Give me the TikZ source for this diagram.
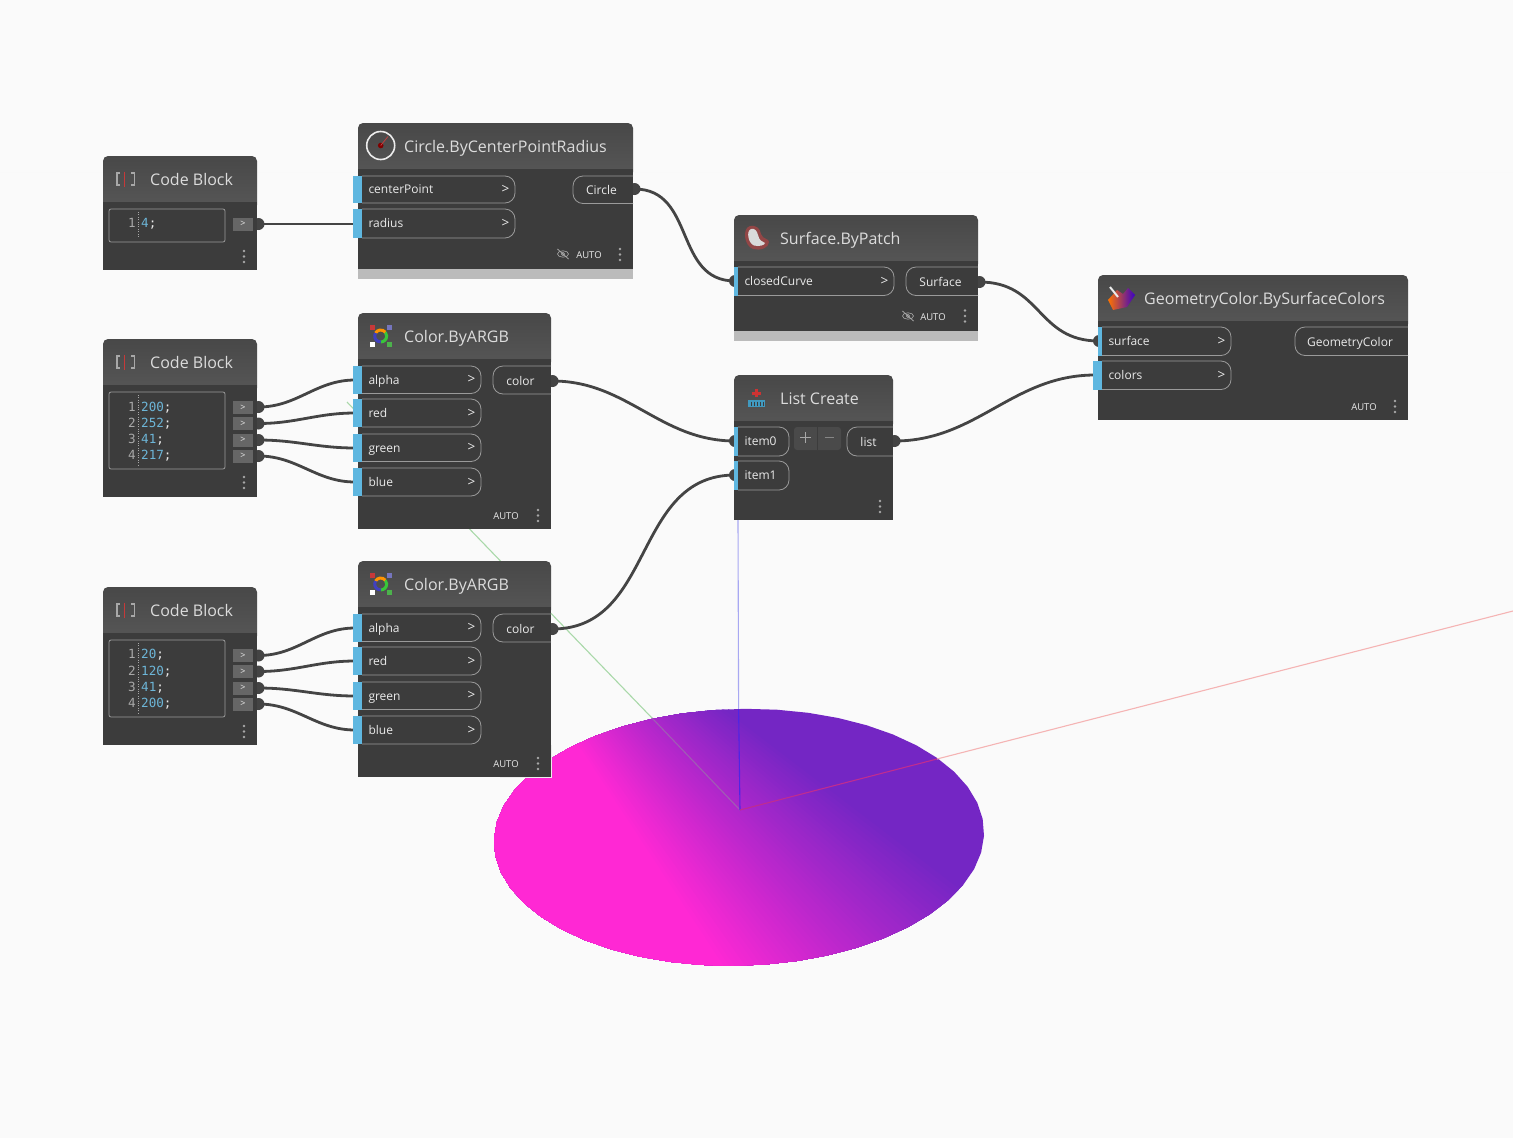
\documentclass[tikz,border=0pt]{standalone}
\usepackage{fontspec}
\setmainfont{Open Sans}
\newfontfamily\codefont{DejaVu Sans Mono}
\usetikzlibrary{shadings}
\definecolor{bgc}{HTML}{FAFAFA}
\definecolor{bodyc}{HTML}{3C3C3C}
\definecolor{headt}{HTML}{484848}
\definecolor{headb}{HTML}{575757}
\definecolor{wirec}{HTML}{444444}
\definecolor{portc}{HTML}{5FB7E0}
\definecolor{linec}{HTML}{9A9A9A}
\definecolor{txtc}{HTML}{EAEAEA}
\definecolor{titlec}{HTML}{DCDCDC}
\definecolor{codec}{HTML}{6DB6D8}
\definecolor{numc}{HTML}{A8A8A8}
\definecolor{magc}{HTML}{FF28D4}
\definecolor{purc}{HTML}{7426C4}
\definecolor{chipc}{HTML}{666666}
\definecolor{btnc}{HTML}{4A4A4A}
\definecolor{bandc}{HTML}{BBBBBB}
\definecolor{gaxout}{HTML}{A9D8A9}
\definecolor{gaxin}{HTML}{A05CB4}
\definecolor{baxout}{HTML}{A8A8F2}
\definecolor{baxin}{HTML}{4F24E4}
\definecolor{raxout}{HTML}{F5B4B4}
\definecolor{raxin}{HTML}{C02C90}
\tikzset{
  txt/.style={inner sep=0pt,text=txtc,font=\fontsize{12}{14}\selectfont,anchor=base west},
  ctxt/.style={inner sep=0pt,text=txtc,font=\fontsize{12}{14}\selectfont,anchor=base},
  chev/.style={inner sep=0pt,text=txtc,font=\fontsize{13.5}{15}\selectfont,anchor=center},
  title/.style={inner sep=0pt,text=titlec,font=\fontsize{16}{19}\selectfont,anchor=base west},
  autotxt/.style={inner sep=0pt,text=txtc,font=\fontsize{9.5}{11}\selectfont,anchor=base},
  codetxt/.style={inner sep=0pt,text=codec,font=\codefont\fontsize{12.6}{14}\selectfont,anchor=base west},
  numtxt/.style={inner sep=0pt,text=numc,font=\codefont\fontsize{12.6}{14}\selectfont,anchor=base east},
  knob/.style={circle,fill=wirec,minimum size=12pt,inner sep=0pt},
  wire/.style={draw=wirec,line width=2.8pt},
  rim/.style={draw=linec,line width=0.8pt},
  dot/.style={fill=numc},
  axis line/.style={line width=1.1pt}
}
% body of a node: x1 x2 ytop yheader ybottom name
\newcommand{\nodebody}[6]{%
  \shade[top color=headt,bottom color=headb,rounded corners=5pt]
     (#1,#3) rectangle (#2,#4+8);
  \fill[bodyc] (#1,#4) rectangle (#2,#5);
  \node[inner sep=0pt,minimum size=0pt] (#6) at ({(#1+#2)/2},{(#3+#5)/2}) {};
}
% three dots
\newcommand{\threedots}[2]{%
  \fill[dot] (#1,#2-5.5) circle (1.3) (#1,#2) circle (1.3) (#1,#2+5.5) circle (1.3);
}
% input port without chevron: blue x, inner x, x right, ytop, ybot, name, label
\newcommand{\plainport}[7]{%
  \draw[rim,rounded corners=10pt] (#2,#4) -- (#3,#4) -- (#3,#5) -- (#2,#5);
  \fill[portc] (#1,#4) rectangle (#2,#5);
  \node[txt] (#6) at (#2+6.3,{(#4+#5)/2+4.4}) {#7};
}
% input port with chevron
\newcommand{\inport}[7]{%
  \plainport{#1}{#2}{#3}{#4}{#5}{#6}{#7}%
  \node[chev] (#6c) at (#3-9.5,{(#4+#5)/2}) {>};
}
% output port: name, x left, width, ytop, ybot, label
\newcommand{\outport}[6]{%
  \draw[rim,rounded corners=10pt] (#2+#3,#4) -- (#2,#4) -- (#2,#5) -- (#2+#3,#5);
  \node[ctxt] (#1) at ({#2+#3/2-1.5},{(#4+#5)/2+5.1}) {#6};
}
% code chip
\newcommand{\chiprow}[2]{%
  \fill[chipc] (233,#1-6.5) rectangle (253,#1+6.5);
  \node[inner sep=0pt,text=txtc,font=\fontsize{9}{10}\selectfont] (#2) at (243,#1) {>};
}
% code-block icon and title
\newcommand{\cbhead}[2]{%
  \draw[numc,line width=1.2pt] (120,#1-6) -- (117,#1-6) -- (117,#1+6) -- (120,#1+6);
  \draw[numc,line width=1.2pt] (131,#1-6) -- (134.5,#1-6) -- (134.5,#1+6) -- (131,#1+6);
  \draw[red!55!gray,line width=1.6pt] (124.5,#1-7.5) -- (124.5,#1+7.5);
  \node[title] (#2) at (150,#1+6) {Code Block};
}
% auto label
\newcommand{\autolabel}[3]{\node[autotxt] (#3) at (#1,#2) {AUTO};}
% eye icon
\newcommand{\eyeicon}[2]{%
  \draw[numc,line width=0.6pt] (#1,#2) ellipse (5.5 and 3.2);
  \draw[numc,line width=0.6pt] (#1,#2) circle (1.6);
  \draw[numc,line width=0.8pt] (#1-5.5,#2-5) -- (#1+5.5,#2+5);
}
% colour icon
\newcommand{\colicon}[1]{%
  \fill[red!55!gray] (370,#1-11) rectangle (375,#1-6);
  \fill[blue!35!gray!80!white] (387,#1-11) rectangle (392,#1-6);
  \fill[white] (370,#1+6) rectangle (375,#1+11);
  \fill[green!40!gray] (387,#1+6) rectangle (392,#1+11);
  \draw[green!55!gray,line width=3pt] (380.7,#1) ++(90:6) arc[start angle=90,end angle=-40,radius=6];
  \draw[orange!85!yellow,line width=3pt] (380.7,#1) ++(-40:6) arc[start angle=-40,end angle=-150,radius=6];
  \draw[blue!50!gray,line width=3pt] (380.7,#1) ++(-150:6) arc[start angle=-150,end angle=-270,radius=6];
}
\begin{document}
\begin{tikzpicture}[x=1pt,y=-1pt]
\useasboundingbox (0,0) rectangle (1513,1138);
\fill[bgc] (0,0) rectangle (1513,1138);
\draw[white!95!gray,line width=0.8pt] (0,172.5) -- (1513,172.5);

% disc: colour fan around a far point, as the bilinear colouring of the surface gives
\begin{scope}
  \clip plot[domain=0:360,samples=49] ({739+245*cos(\x)+6*sin(\x)},{837.3-1.5*cos(\x)-128.5*sin(\x)}) -- cycle;
  \fill[purc] (480,690) rectangle (1000,980);
  \begin{scope}[shift={(386,452)}]
    \foreach \i in {0,...,48} {
      \pgfmathsetmacro{\fanang}{36.9+\i*19.8/48}
      \pgfmathsetmacro{\fanpct}{\i*100/48}
      \fill[magc!\fanpct!purc] (0,0) -- (\fanang:1300) -- (125:1300) -- cycle;
    }
  \end{scope}
\end{scope}

% world axes
\draw[gaxout,axis line] (347,402) -- (652,718);
\draw[gaxin,axis line] (652,718) -- (740,810);
\draw[baxout,axis line] (738,520) -- (738.6,709);
\draw[baxin,axis line] (738.6,709) -- (740,810);
\draw[raxout,axis line] (1513,611) -- (937,759);
\draw[raxin,axis line] (937,759) -- (740,810);

% knobs
\node[knob] (o1) at (258.5,224) {};
\node[knob] (o2a) at (258.5,407) {};
\node[knob] (o2b) at (258.5,423.5) {};
\node[knob] (o2c) at (258.5,440) {};
\node[knob] (o2d) at (258.5,456) {};
\node[knob] (o3a) at (258.5,655.5) {};
\node[knob] (o3b) at (258.5,671.5) {};
\node[knob] (o3c) at (258.5,688) {};
\node[knob] (o3d) at (258.5,704) {};
\node[knob] (ocirc) at (634.5,189) {};
\node[knob] (osurf) at (979.5,282) {};
\node[knob] (ocol1) at (552.5,381) {};
\node[knob] (ocol2) at (552.5,629) {};
\node[knob] (olist) at (894.5,441) {};
\node[knob] (iclosed) at (735,281) {};
\node[knob] (iitem0) at (735,441) {};
\node[knob] (iitem1) at (735,475) {};
\node[knob] (isurface) at (1099,341) {};
\coordinate (icolors) at (1095,375);
\coordinate (iradius) at (355,224);
\coordinate (i1a) at (355,380);
\coordinate (i1b) at (355,413);
\coordinate (i1c) at (355,448);
\coordinate (i1d) at (355,482);
\coordinate (i2a) at (355,628);
\coordinate (i2b) at (355,661);
\coordinate (i2c) at (355,696);
\coordinate (i2d) at (355,730);

% connectors
\draw[wire] (o1.center) -- (iradius);
\foreach \a/\b in {o2a/i1a,o2b/i1b,o2c/i1c,o2d/i1d,o3a/i2a,o3b/i2b,o3c/i2c,o3d/i2d}
  \draw[wire] (\a.center) to[out=0,in=180,looseness=1] (\b);
\draw[wire] (ocirc.center) to[out=0,in=180,looseness=1.15] (iclosed.center);
\draw[wire] (osurf.center) to[out=0,in=180,looseness=1.2] (isurface.center);
\draw[wire] (ocol1.center) to[out=0,in=180,looseness=1] (iitem0.center);
\draw[wire] (ocol2.center) to[out=0,in=180,looseness=1.1] (iitem1.center);
\draw[wire] (olist.center) to[out=0,in=180,looseness=1] (icolors);

% ---- Code Block 1
\nodebody{103}{257}{156}{202}{270}{cb1}
\cbhead{179}{cb1t}
\draw[rim,rounded corners=2pt] (109,209) rectangle (225,242);
\draw[numc,line width=0.4pt,dotted] (138,212) -- (138,238);
\node[numtxt] (cb1n1) at (136,227.6) {1};
\node[codetxt] (cb1c1) at (141,227.6) {4\textcolor{txtc}{;}};
\chiprow{224}{cb1p}
\threedots{244}{256.5}

% ---- Code Block 2
\nodebody{103}{257}{339}{385}{497}{cb2}
\cbhead{362}{cb2t}
\draw[rim,rounded corners=2pt] (109,392) rectangle (225,469);
\draw[numc,line width=0.4pt,dotted] (138,395) -- (138,465);
\node[numtxt] (cb2n1) at (136,411.4) {1};
\node[numtxt] (cb2n2) at (136,427.4) {2};
\node[numtxt] (cb2n3) at (136,443.4) {3};
\node[numtxt] (cb2n4) at (136,459.4) {4};
\node[codetxt] (cb2c1) at (141,411.4) {200\textcolor{txtc}{;}};
\node[codetxt] (cb2c2) at (141,427.4) {252\textcolor{txtc}{;}};
\node[codetxt] (cb2c3) at (141,443.4) {41\textcolor{txtc}{;}};
\node[codetxt] (cb2c4) at (141,459.4) {217\textcolor{txtc}{;}};
\chiprow{407.5}{cb2pa}\chiprow{423.5}{cb2pb}\chiprow{440}{cb2pc}\chiprow{456}{cb2pd}
\threedots{244}{482.5}

% ---- Code Block 3
\nodebody{103}{257}{587}{633}{745}{cb3}
\cbhead{610}{cb3t}
\draw[rim,rounded corners=2pt] (109,640) rectangle (225,717);
\draw[numc,line width=0.4pt,dotted] (138,643) -- (138,713);
\node[numtxt] (cb3n1) at (136,658.4) {1};
\node[numtxt] (cb3n2) at (136,675.4) {2};
\node[numtxt] (cb3n3) at (136,691.4) {3};
\node[numtxt] (cb3n4) at (136,707.4) {4};
\node[codetxt] (cb3c1) at (141,658.4) {20\textcolor{txtc}{;}};
\node[codetxt] (cb3c2) at (141,675.4) {120\textcolor{txtc}{;}};
\node[codetxt] (cb3c3) at (141,691.4) {41\textcolor{txtc}{;}};
\node[codetxt] (cb3c4) at (141,707.4) {200\textcolor{txtc}{;}};
\chiprow{655.5}{cb3pa}\chiprow{671.5}{cb3pb}\chiprow{688}{cb3pc}\chiprow{704}{cb3pd}
\threedots{244}{731.5}

% ---- Circle.ByCenterPointRadius
\fill[bandc] (358,265) rectangle (633,279);
\nodebody{358}{633}{123}{169}{269}{circ}
\draw[white!85!gray,line width=1.6pt] (380.7,145.5) circle (14);
\fill[red!50!black] (380.7,145.5) circle (2.8);
\draw[red!50!gray,line width=0.8pt] (380.7,145.5) -- (388,136.5);
\node[title] (circt) at (404,152) {Circle.ByCenterPointRadius};
\inport{353}{362}{515}{176}{203}{pcenter}{centerPoint}
\inport{353}{362}{515}{209}{238}{pradius}{radius}
\outport{pcircle}{573}{60}{176}{203.5}{Circle}
\eyeicon{563}{254}
\autolabel{589}{258}{circa}
\threedots{620}{254.5}

% ---- Surface.ByPatch
\fill[bandc] (734,327) rectangle (978,341);
\nodebody{734}{978}{215}{261}{331}{surf}
\fill[red!35!gray!85!black] (750,226) .. controls (742,228) and (744,246) .. (753,249) .. controls (760,251) and (769,248) .. (769,242) .. controls (769,238) and (763,240) .. (761,234) .. controls (760,228) and (756,225) .. (750,226) -- cycle;
\fill[white!70!gray] (751,229) .. controls (746,231) and (748,243) .. (754,245.5) .. controls (759,247) and (765,245) .. (765,243) .. controls (762,242) and (759,240) .. (758,235) .. controls (757,231) and (755,228) .. (751,229) -- cycle;
\node[title] (surft) at (780,244) {Surface.ByPatch};
\inport{733.5}{738}{894}{267}{295.5}{pclosed}{closedCurve}
\outport{psurface}{906}{72}{267}{295.5}{Surface}
\eyeicon{908}{316}
\autolabel{933}{320}{surfa}
\threedots{965}{316}

% ---- Color.ByARGB 1
\nodebody{358}{551}{313}{359}{529}{col1}
\colicon{336}
\node[title] (col1t) at (404,342) {Color.ByARGB};
\inport{353}{362}{481}{366}{393.5}{c1a}{alpha}
\inport{353}{362}{481}{399}{427}{c1b}{red}
\inport{353}{362}{481}{434}{461.5}{c1c}{green}
\inport{353}{362}{481}{468}{496}{c1d}{blue}
\outport{c1o}{493}{58}{366}{394}{color}
\autolabel{506}{519.5}{col1a}
\threedots{538}{515.5}

% ---- Color.ByARGB 2
\nodebody{358}{551}{561}{607}{777}{col2}
\draw[white!85!gray,line width=0.6pt] (551,745) -- (551,777) -- (500,777);
\colicon{584}
\node[title] (col2t) at (404,590) {Color.ByARGB};
\inport{353}{362}{481}{614}{641.5}{c2a}{alpha}
\inport{353}{362}{481}{647}{675}{c2b}{red}
\inport{353}{362}{481}{682}{709.5}{c2c}{green}
\inport{353}{362}{481}{716}{744}{c2d}{blue}
\outport{c2o}{493}{58}{614}{642}{color}
\autolabel{506}{767.5}{col2a}
\threedots{538}{763.5}

% ---- List Create
\nodebody{734}{893}{375}{421}{520}{lst}
\fill[red!60!gray] (755,389) rectangle (758,397);
\fill[red!60!gray] (752,391.5) rectangle (761,394.5);
\fill[blue!30!cyan!50!gray] (748,400) rectangle (765,407);
\foreach \gx in {751,754,757,760,763} \draw[bodyc,line width=0.5pt] (\gx,401.5) -- (\gx,405.5);
\node[title] (lstt) at (780,404) {List Create};
\plainport{733.5}{738}{789}{427}{456}{pitem0}{item0}
\plainport{733.5}{738}{789}{461}{490}{pitem1}{item1}
\fill[btnc,rounded corners=3pt] (794,427) rectangle (841,450);
\draw[bodyc,line width=0.6pt] (817,427) -- (817,450);
\draw[numc,line width=1.6pt] (805.5,432) -- (805.5,443) (800,437.5) -- (811,437.5);
\draw[numc!80!black,line width=1.6pt] (824.5,437.5) -- (833.5,437.5);
\outport{plist}{847}{46}{427}{456}{list}
\threedots{880}{506.5}

% ---- GeometryColor.BySurfaceColors
\nodebody{1098}{1408}{275}{321}{420}{gc}
\shade[left color=orange!90!red,middle color=green!60!yellow!85!black,right color=blue!55!violet] (1108,300) -- (1117,290) -- (1123,294) -- (1128,288) -- (1135,295) -- (1127,307) -- (1113,310) -- cycle;
\draw[white!85!gray,line width=2pt] (1110,287) -- (1118,297);
\node[title] (gct) at (1144,304) {GeometryColor.BySurfaceColors};
\inport{1098}{1102}{1231}{327}{355.5}{psurf}{surface}
\inport{1093}{1102}{1231}{361}{389.5}{pcolors}{colors}
\outport{pgc}{1295}{113}{327}{355.5}{GeometryColor}
\autolabel{1364}{410.5}{gca}
\threedots{1395}{406.5}
\end{tikzpicture}
\end{document}
